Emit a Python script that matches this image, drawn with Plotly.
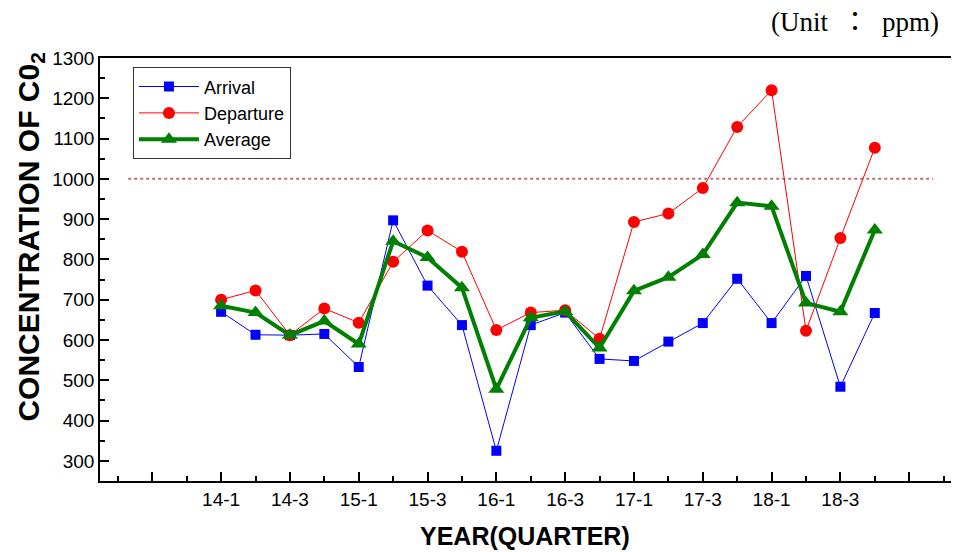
import plotly.graph_objects as go

quarters = ["14-1", "14-2", "14-3", "14-4", "15-1", "15-2", "15-3", "15-4",
            "16-1", "16-2", "16-3", "16-4", "17-1", "17-2", "17-3", "17-4",
            "18-1", "18-2", "18-3", "18-4"]
arrival = [670, 613, 612, 615, 533, 897, 735, 637, 325, 637, 668, 553,
           548, 596, 642, 752, 642, 759, 484, 667]
departure = [700, 723, 612, 678, 643, 794, 872, 819, 625, 668, 674, 603,
             893, 914, 977, 1129, 1220, 623, 853, 1077]
average = [685, 668, 612, 647, 590, 845, 805, 730, 478, 655, 671, 580,
           722, 756, 812, 941, 932, 692, 670, 873]

limit_value = 1000
limit_span = [-2.7, 20.7]
x_range = [-3.52, 21.68]

xpos = list(range(len(quarters)))
major_vals = list(range(-2, 22, 2))
major_text = [quarters[v] if 0 <= v < len(quarters) - 1 else "" for v in major_vals]
minor_vals = list(range(-3, 22, 2))

FONT = "Liberation Sans, Arial, sans-serif"

fig = go.Figure()
fig.add_trace(go.Scatter(x=xpos, y=arrival, name="Arrival", mode="lines+markers",
                         line=dict(color="#0000FF", width=1),
                         marker=dict(symbol="square", size=10, color="#0000FF")))
fig.add_trace(go.Scatter(x=xpos, y=departure, name="Departure", mode="lines+markers",
                         line=dict(color="#FF0000", width=1),
                         marker=dict(symbol="circle", size=12, color="#FF0000")))
fig.add_trace(go.Scatter(x=xpos, y=average, name="Average", mode="lines+markers",
                         line=dict(color="#008000", width=4),
                         marker=dict(symbol="triangle-up", size=14, color="#008000")))

fig.add_shape(type="line", xref="x", yref="y", x0=limit_span[0], x1=limit_span[1],
              y0=limit_value, y1=limit_value,
              line=dict(color="#C07070", width=2, dash="dot"), layer="below")

fig.update_layout(
    width=959, height=552,
    margin=dict(l=92, r=0, t=50, b=79, autoexpand=False),
    paper_bgcolor="white", plot_bgcolor="white",
    font=dict(family=FONT, color="black", size=18),
    showlegend=True,
    legend=dict(x=0.038, y=0.978, xanchor="left", yanchor="top",
                bgcolor="white", bordercolor="#333333", borderwidth=1,
                itemwidth=60,
                font=dict(family=FONT, size=18), tracegroupgap=0),
    xaxis=dict(range=x_range, tickmode="array", tickvals=major_vals, ticktext=major_text,
               ticks="inside", ticklen=9, tickwidth=1.5, tickcolor="black",
               showline=True, linecolor="black", linewidth=1.5, mirror=True,
               showgrid=False, zeroline=False, automargin=False,
               tickfont=dict(family=FONT, size=19),
               minor=dict(tickvals=minor_vals, ticks="inside", ticklen=5,
                          tickwidth=1.5, tickcolor="black", showgrid=False)),
    yaxis=dict(range=[250, 1300], tickmode="linear", tick0=300, dtick=100,
               ticks="inside", ticklen=9, tickwidth=1.5, tickcolor="black",
               showline=True, linecolor="black", linewidth=1.5,
               showgrid=False, zeroline=False, automargin=False,
               tickfont=dict(family=FONT, size=19),
               minor=dict(tick0=250, dtick=50, ticks="inside", ticklen=5,
                          tickwidth=1.5, tickcolor="black", showgrid=False)),
)

fig.add_annotation(text="<b>YEAR(QUARTER)</b>", xref="paper", yref="paper",
                   x=0.49, y=-0.13, xanchor="center", yanchor="middle", showarrow=False,
                   font=dict(family="Liberation Sans Narrow, " + FONT, size=25, color="black"))

fig.add_annotation(text="<b>CONCENTRATION OF C0<sub>2</sub></b>", textangle=-90,
                   xref="paper", yref="paper", x=-0.08, y=0.577,
                   xanchor="center", yanchor="middle", showarrow=False,
                   font=dict(family=FONT, size=30, color="black"))

fig.add_annotation(text="(Unit\u00a0\u00a0：\u00a0\u00a0ppm)", xref="paper", yref="paper",
                   x=0.97, y=1.085, xanchor="right", yanchor="middle",
                   showarrow=False,
                   font=dict(family="Liberation Serif, Noto Sans CJK KR, serif", size=27, color="black"))

fig.write_html("out.html")
